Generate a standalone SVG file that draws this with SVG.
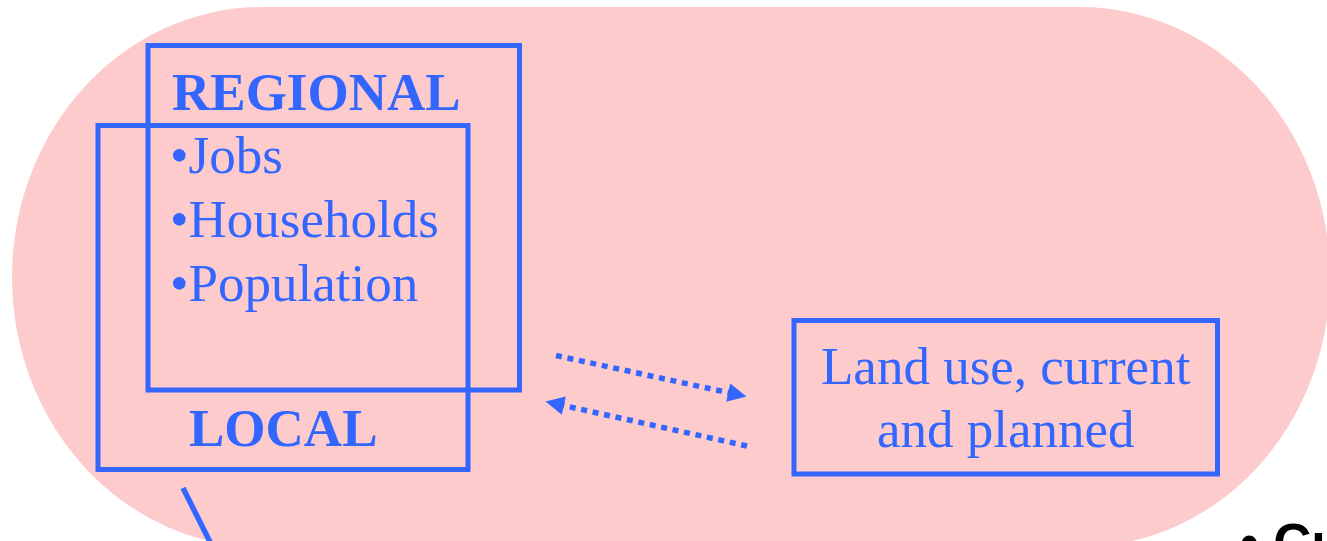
<svg xmlns="http://www.w3.org/2000/svg" width="1327" height="541" viewBox="0 0 1327 541">
<style>
.box{fill:none;stroke:#3366FF;stroke-width:5}
.t{font-family:"Liberation Serif","Times New Roman",serif;font-size:53px;fill:#3366FF}
.b{font-weight:bold}
.dot{fill:none;stroke:#3366FF;stroke-width:5.5;stroke-dasharray:6 5.7}
</style>
<defs>
<marker id="ah" viewBox="0 0 10 10" refX="1" refY="5" markerWidth="3.6" markerHeight="3.4" orient="auto" markerUnits="strokeWidth">
<path d="M0,0 L10,5 L0,10 Z" fill="#3366FF"/>
</marker>
</defs>
<g id="background">
<rect x="12" y="7" width="1318" height="540" rx="250" ry="270" fill="#FDCBCB"/>
</g>
<g id="regional">
<rect class="box" x="148" y="45.5" width="371.5" height="344.5"/>
<text class="t b" x="172" y="110">REGIONAL</text>
<text class="t" x="170" y="173">•Jobs</text>
<text class="t" x="170" y="237">•Households</text>
<text class="t" x="170" y="301">•Population</text>
</g>
<g id="local">
<rect class="box" x="98" y="125.5" width="370" height="344"/>
<text class="t b" x="189" y="446">LOCAL</text>
</g>
<g id="landuse">
<rect class="box" x="794" y="320.5" width="423.5" height="153.5"/>
<text class="t" x="1005.7" y="384" text-anchor="middle">Land use, current</text>
<text class="t" x="1005.7" y="447" text-anchor="middle">and planned</text>
</g>
<g id="connectors">
<line class="dot" x1="556" y1="355.5" x2="730" y2="393" marker-end="url(#ah)"/>
<line class="dot" x1="747" y1="446" x2="562" y2="405.2" marker-end="url(#ah)"/>
<line x1="183" y1="488" x2="213" y2="548" stroke="#3366FF" stroke-width="5.5"/>
</g>
<g id="footer">
<text x="1240" y="561" font-family="'Liberation Sans',Arial,sans-serif" font-weight="bold" font-size="53" fill="#000">• Cu</text>
</g>
</svg>
